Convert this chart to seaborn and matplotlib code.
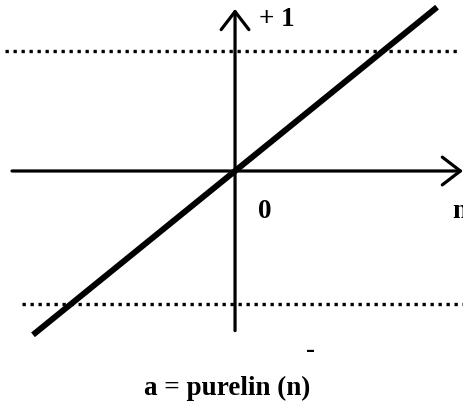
import matplotlib
matplotlib.use("Agg")
import matplotlib.pyplot as plt
import seaborn as sns
import pandas as pd

# purelin transfer function a = n
n_values = [-1.365, 1.365]
a_values = [-1.365, 1.365]

# dotted saturation-style reference levels (as drawn)
levels = [1.0, -1.11]
level_spans = [(-1.555, 1.53), (-1.44, 1.545)]

sns.set_theme(style="white")
plt.rcParams['font.family'] = ['Liberation Serif', 'DejaVu Serif']

fig = plt.figure(figsize=(4.64, 4.10), dpi=100)
ax = fig.add_axes([0, 0, 1, 1])
ax.set_xlim(-1.588, 1.547)
ax.set_ylim(-1.983, 1.433)
ax.axis('off')

df = pd.DataFrame({'n': n_values, 'a': a_values})
sns.lineplot(data=df, x='n', y='a', color='black', linewidth=4.3,
             solid_capstyle='butt', ax=ax)

for y, (x0, x1) in zip(levels, level_spans):
    ax.plot([x0, x1], [y, y], color='black', linewidth=2.4,
            linestyle=(0, (1, 1.4)), dash_capstyle='butt')

arrow = dict(arrowstyle='->,head_length=1.3,head_width=1.0', lw=2.3,
             color='black', shrinkA=0, shrinkB=0, mutation_scale=10)
# horizontal axis
ax.annotate('', xy=(1.54, 0), xytext=(-1.507, 0), arrowprops=arrow)
# vertical axis
ax.annotate('', xy=(0, 1.35), xytext=(0, -1.33), arrowprops=arrow)

tkw = dict(fontsize=19.5, fontweight='bold', color='black')
ax.text(0.16, 1.27, '+ 1', ha='left', va='center', **tkw)
ax.text(0.2, -0.325, '0', ha='center', va='center', **tkw)
ax.text(1.47, -0.333, 'n', ha='left', va='center', **tkw)
ax.text(0.51, -1.485, '-', ha='center', va='center', **tkw)
ax.text(-0.05, -1.8, 'a = purelin (n)', ha='center', va='center', **tkw)

fig.savefig('out.png', dpi=100)
